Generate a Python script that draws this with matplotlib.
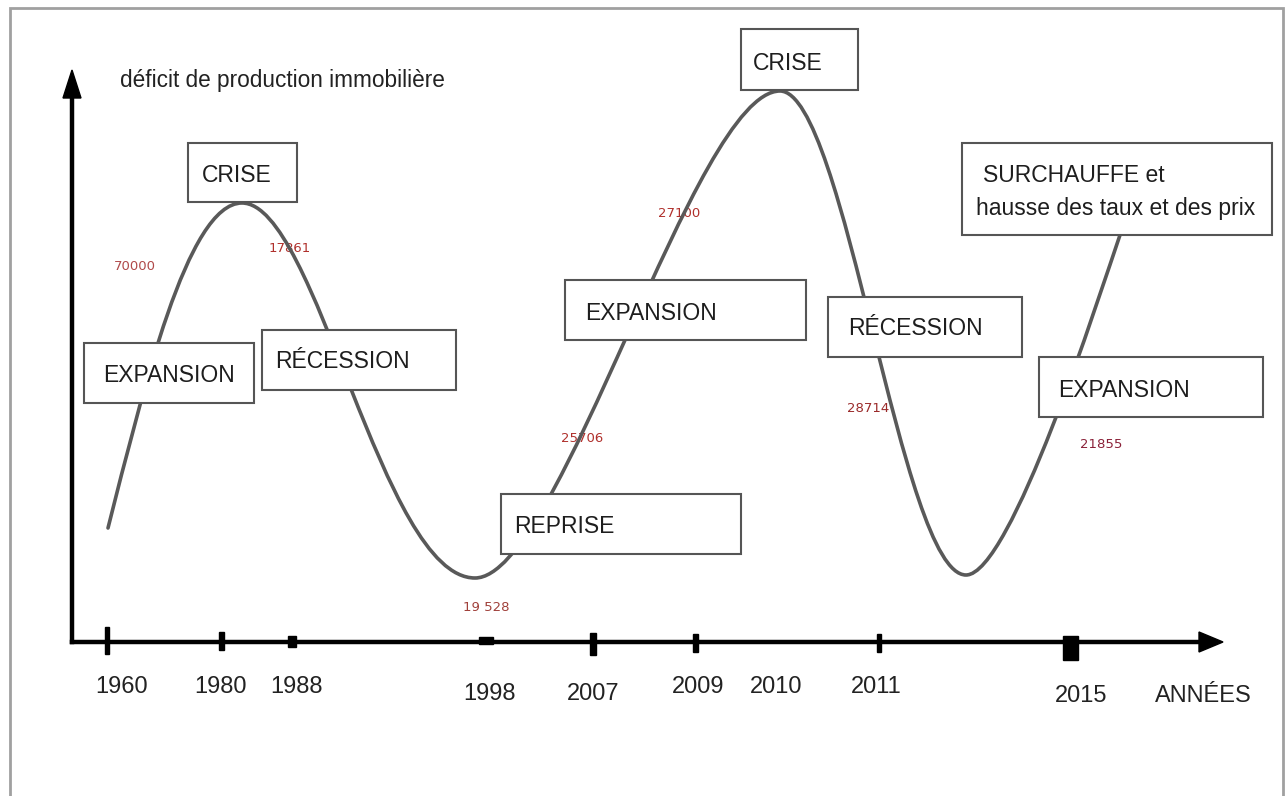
import matplotlib
matplotlib.use("Agg")
import numpy as np
from matplotlib import pyplot as plt
from matplotlib import patches as mpatches
from matplotlib.path import Path

# diagram is drawn in picture units (x to the right, y downwards)
W, H = 1288, 796

# years on the time axis and where they sit along it
years = ["1960", "1980", "1988", "1998", "2007", "2009", "2010", "2011", "2015"]
year_pos = [107, 222, 292, 486, 593, 696, None, 879, 1071]
year_label_x = [122, 221, 297, 490, 593, 698, 776, 876, 1081]
year_label_y = [693, 693, 693, 700, 700, 693, 693, 693, 702]

# cycle phases (box texts)
phases = ["CRISE", "CRISE", "EXPANSION", "RÉCESSION", "EXPANSION",
          "REPRISE", "RÉCESSION", "EXPANSION",
          "SURCHAUFFE et\nhausse des taux et des prix"]

# production deficit figures written next to the curve
deficits = ["70000", "17861", "19 528", "25706", "27100", "28714", "21855"]

# turning points of the cycle curve (start, peak, trough, peak, trough, end)
wave_x = [108, 242, 475, 780, 966, 1120]
wave_y = [528, 203, 578, 91, 575, 235]

# ---- layout / style -------------------------------------------------------
# box rectangles (x0, y0, x1, y1) and text baseline positions
boxes = [(188, 143, 297, 202), (741, 29, 858, 90), (84, 343, 254, 403),
         (262, 330, 456, 390), (565, 280, 806, 340), (501, 494, 741, 554),
         (828, 297, 1022, 357), (1039, 357, 1263, 417), (962, 143, 1272, 235)]
box_text = [(202, 182), (753, 70), (103, 382), (275, 368), (585, 320),
            (514, 533), (848, 335), (1058, 397), (983, 182)]
deficit_xy = [(135, 270), (290, 252), (486, 611), (582, 442), (679, 217),
              (868, 412), (1101, 448)]
deficit_colors = ["#b04a4a", "#b0302c", "#a0403a", "#b0302c", "#b0302c",
                  "#9a2a2a", "#8a2038"]
# tick mark sizes (width, top, bottom)
tick_size = [(4, 627, 654), (5, 632, 650), (8, 636, 647), (14, 637, 644),
             (6, 633, 655), (5, 634, 652), None, (4, 634, 652), (15, 636, 660)]
# bezier handle lengths at each segment (fraction of segment width)
handles = [(None, 0.41), (0.32, 0.40), (0.28, 0.28), (0.35, 0.35), (0.29, None)]

box_font = ["Liberation Sans", "DejaVu Sans"]

fig = plt.figure(figsize=(W / 100, H / 100), dpi=100)
ax = fig.add_axes([0, 0, 1, 1])
ax.set_xlim(0, W)
ax.set_ylim(H, 0)
ax.axis("off")

# outer frame
ax.plot([10, 10, 1283, 1283], [H + 5, 8, 8, H + 5], color="#a0a0a0", lw=2,
        solid_joinstyle="miter")

# cycle curve built from cubic segments between the turning points
verts = [(wave_x[0], wave_y[0])]
codes = [Path.MOVETO]
for i in range(len(wave_x) - 1):
    x0, y0, x1, y1 = wave_x[i], wave_y[i], wave_x[i + 1], wave_y[i + 1]
    k0, k1 = handles[i]
    if k0 is None:
        # curve starts mid-rise
        c0 = (x0 + 35, y0 - 137)
    else:
        c0 = (x0 + k0 * (x1 - x0), y0)
    if k1 is None:
        # curve ends mid-rise
        c1 = (x1 - 21, y1 + 61)
    else:
        c1 = (x1 - k1 * (x1 - x0), y1)
    verts += [c0, c1, (x1, y1)]
    codes += [Path.CURVE4] * 3
ax.add_patch(mpatches.PathPatch(Path(verts, codes), fill=False,
                                edgecolor="#595959", lw=2.6, zorder=3,
                                capstyle="round"))

# axes with arrows
ax.plot([72, 72], [642, 95], color="black", lw=3.2, zorder=4,
        solid_capstyle="projecting")
ax.plot([72, 1202], [642, 642], color="black", lw=3.2, zorder=4,
        solid_capstyle="projecting")
ax.add_patch(mpatches.Polygon([(63, 98), (81, 98), (72, 70)], closed=True,
                              color="black", zorder=4))
ax.add_patch(mpatches.Polygon([(1199, 632), (1199, 652), (1223, 642)],
                              closed=True, color="black", zorder=4))

# tick marks and year labels
for year, pos, size, lx, ly in zip(years, year_pos, tick_size,
                                   year_label_x, year_label_y):
    if pos is not None:
        w, top, bottom = size
        ax.add_patch(mpatches.Rectangle((pos - w / 2, top), w, bottom - top,
                                        color="black", zorder=5))
    ax.text(lx, ly, year, ha="center", va="baseline", fontsize=17,
            family=box_font, color="#222222")
ax.text(1203, 702, "ANNÉES", ha="center", va="baseline", fontsize=17,
        family=box_font, color="#222222")

# axis label
ax.text(120, 87, "déficit de production immobilière", ha="left",
        va="baseline", fontsize=16.3, family=box_font, color="#222222")

# phase boxes
for label, (x0, y0, x1, y1), (tx, ty) in zip(phases, boxes, box_text):
    ax.add_patch(mpatches.Rectangle((x0, y0), x1 - x0, y1 - y0,
                                    facecolor="white", edgecolor="#555555",
                                    lw=1.5, zorder=6))
    lines = label.split("\n")
    for j, line in enumerate(lines):
        ax.text(tx - (7 if j else 0), ty + 33 * j, line, ha="left",
                va="baseline", fontsize=16.5, family=box_font,
                color="#1e1e1e", zorder=7)

# deficit figures
for value, (x, y), c in zip(deficits, deficit_xy, deficit_colors):
    ax.text(x, y, value, ha="center", va="baseline", fontsize=9.5,
            family="DejaVu Sans", color=c, zorder=2)

fig.savefig("out.png", dpi=100)
